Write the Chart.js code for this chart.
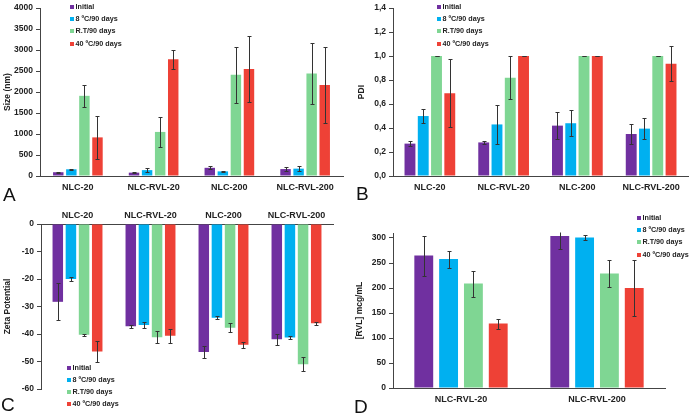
<!DOCTYPE html>
<html><head><meta charset="utf-8">
<script src="https://cdn.jsdelivr.net/npm/chart.js@4"></script>
<style>
body{margin:0;background:#fff;width:693px;height:414px;position:relative;overflow:hidden;font-family:"Liberation Sans",Arial,sans-serif}
canvas{position:absolute}
.lg{position:absolute;font:bold 7.2px "Liberation Sans",Arial,sans-serif;color:#222;line-height:12.2px;z-index:2}
.lg div{white-space:nowrap;height:12.2px}
.lg span{display:inline-block;width:4px;height:4px;margin-right:1.5px;vertical-align:0px}
.letter{position:absolute;font:19px/19px "Liberation Sans",Arial,sans-serif;color:#111;z-index:2}
</style></head><body>
<canvas id="cA" width="350" height="200" style="left:0;top:0"></canvas>
<canvas id="cB" width="348" height="200" style="left:345px;top:0"></canvas>
<canvas id="cC" width="350" height="214" style="left:0;top:200px"></canvas>
<canvas id="cD" width="348" height="214" style="left:345px;top:200px"></canvas>
<div class="letter" style="left:3px;top:185px">A</div>
<div class="letter" style="left:356px;top:184px">B</div>
<div class="letter" style="left:1px;top:395px">C</div>
<div class="letter" style="left:354px;top:397px">D</div>
<script>
// ---- data ----
const seriesNames = ['Initial', '8 ºC/90 days', 'R.T/90 days', '40 ºC/90 days'];
const categoriesABC = ['NLC-20', 'NLC-RVL-20', 'NLC-200', 'NLC-RVL-200'];
const categoriesD = ['NLC-RVL-20', 'NLC-RVL-200'];

// A: Size (nm)
const sizeInitial = [90, 80, 195, 165];
const size8C = [160, 140, 110, 175];
const sizeRT = [1910, 1050, 2410, 2440];
const size40C = [920, 2780, 2550, 2170];
const sizeInitialErr = [15, 15, 40, 40];
const size8CErr = [15, 40, 15, 55];
const sizeRTErr = [260, 350, 670, 720];
const size40CErr = [520, 230, 790, 910];
const ticksSize = ['0', '500', '1000', '1500', '2000', '2500', '3000', '3500', '4000'];

// B: PDI
const pdiInitial = [0.27, 0.28, 0.42, 0.35];
const pdi8C = [0.50, 0.43, 0.44, 0.395];
const pdiRT = [1.0, 0.82, 1.0, 1.0];
const pdi40C = [0.69, 1.0, 1.0, 0.935];
const pdiInitialErr = [0.02, 0.01, 0.11, 0.085];
const pdi8CErr = [0.06, 0.16, 0.11, 0.085];
const pdiRTErr = [0.002, 0.18, 0.002, 0.002];
const pdi40CErr = [0.285, 0.002, 0.002, 0.145];
const ticksPDI = ['0,0', '0,2', '0,4', '0,6', '0,8', '1,0', '1,2', '1,4'];

// C: Zeta Potential
const zetaInitial = [-28.3, -37.2, -46.5, -41.9];
const zeta8C = [-20.0, -36.7, -34.1, -41.3];
const zetaRT = [-40.3, -41.2, -37.7, -51.0];
const zeta40C = [-46.4, -40.6, -43.9, -36.1];
const zetaInitialErr = [6.7, 0.6, 2.3, 2.0];
const zeta8CErr = [0.7, 1.1, 0.5, 0.5];
const zetaRTErr = [0.3, 2.2, 1.6, 2.6];
const zeta40CErr = [3.9, 2.6, 1.1, 0.6];
const ticksZeta = ['-60', '-50', '-40', '-30', '-20', '-10', '0'];

// D: [RVL] mcg/mL
const rvlInitial = [265, 304];
const rvl8C = [258, 301];
const rvlRT = [209, 229];
const rvl40C = [129, 200];
const rvlInitialErr = [40, 26];
const rvl8CErr = [17, 5];
const rvlRTErr = [26, 26];
const rvl40CErr = [10, 56];
const ticksRVL = ['0', '50', '100', '150', '200', '250', '300'];

// ---- styles ----
const colors = ['#7030A0', '#00B0F0', '#7FD693', '#EE4136'];
const FAM = '"Liberation Sans", Arial, sans-serif';
const TXT = '#222';
const AX = '#444';

const errorBars = {
  id: 'errorBars',
  afterDatasetsDraw(chart) {
    const ctx = chart.ctx, ys = chart.scales.y, a = chart.chartArea;
    ctx.save();
    ctx.beginPath();
    ctx.rect(a.left, a.top - 0.5, a.right - a.left, a.bottom - a.top + 1);
    ctx.clip();
    ctx.strokeStyle = '#333';
    ctx.lineWidth = 1;
    chart.data.datasets.forEach((ds, i) => {
      const meta = chart.getDatasetMeta(i);
      meta.data.forEach((bar, j) => {
        const v = ds.data[j], e = ds.errors[j];
        const x = Math.round(bar.x) + 0.5;
        const y1 = Math.round(ys.getPixelForValue(v + e)) + 0.5;
        const y2 = Math.round(ys.getPixelForValue(v - e)) + 0.5;
        ctx.beginPath();
        ctx.moveTo(x, y1); ctx.lineTo(x, y2);
        ctx.moveTo(x - 2, y1); ctx.lineTo(x + 2, y1);
        ctx.moveTo(x - 2, y2); ctx.lineTo(x + 2, y2);
        ctx.stroke();
      });
    });
    ctx.restore();
  }
};

function datasets(vals, errs, catPct, barPct) {
  return vals.map((v, i) => ({
    label: seriesNames[i], data: v, errors: errs[i],
    backgroundColor: colors[i], borderWidth: 0,
    categoryPercentage: catPct, barPercentage: barPct
  }));
}

function yScale(min, max, step, labels, title, width, titlePad) {
  return {
    type: 'linear', min, max,
    ticks: { stepSize: step, includeBounds: false, font: { size: 8.5, weight: 'bold', family: FAM }, color: TXT, padding: 3,
      callback: (v, i) => labels[i] },
    grid: { display: true, drawOnChartArea: false, drawTicks: true, tickLength: 4, color: AX },
    border: { display: true, color: AX, width: 1 },
    title: { display: true, text: title, font: { size: 8.5, weight: 'bold', family: FAM }, color: TXT,
      padding: { top: titlePad, bottom: 0 } },
    afterFit: (s) => { s.width = width; }
  };
}

function xScale(height, pad, position) {
  return {
    type: 'category', position: position || 'bottom',
    ticks: { font: { size: 9, weight: 'bold', family: FAM }, color: TXT, padding: pad, maxRotation: 0, autoSkip: false },
    grid: { display: false, drawTicks: false },
    border: { display: true, color: AX, width: 1 },
    afterFit: (s) => { s.height = height; }
  };
}

function makeChart(id, labels, ds, y, x, padding) {
  return new Chart(document.getElementById(id), {
    type: 'bar',
    data: { labels, datasets: ds },
    options: {
      responsive: false, animation: false, devicePixelRatio: 1,
      layout: { padding },
      plugins: { legend: { display: false }, tooltip: { enabled: false } },
      scales: { x, y }
    },
    plugins: [errorBars]
  });
}

function makeLegend(left, top) {
  const d = document.createElement('div');
  d.className = 'lg';
  d.style.left = left + 'px';
  d.style.top = top + 'px';
  seriesNames.forEach((n, i) => {
    const r = document.createElement('div');
    const s = document.createElement('span');
    s.style.background = colors[i];
    r.appendChild(s);
    r.appendChild(document.createTextNode(n));
    d.appendChild(r);
  });
  document.body.appendChild(d);
}

makeChart('cA', categoriesABC,
  datasets([sizeInitial, size8C, sizeRT, size40C], [sizeInitialErr, size8CErr, sizeRTErr, size40CErr], 0.69, 0.8),
  yScale(0, 4000, 500, ticksSize, 'Size (nm)', 40, 3),
  xScale(24, 6), { left: 0, right: 7, top: 5, bottom: 0 });

makeChart('cB', categoriesABC,
  datasets([pdiInitial, pdi8C, pdiRT, pdi40C], [pdiInitialErr, pdi8CErr, pdiRTErr, pdi40CErr], 0.72, 0.82),
  yScale(0, 1.4, 0.2, ticksPDI, 'PDI', 48, 12),
  xScale(24, 6), { left: 0, right: 5, top: 5, bottom: 0 });

makeChart('cC', categoriesABC,
  datasets([zetaInitial, zeta8C, zetaRT, zeta40C], [zetaInitialErr, zeta8CErr, zetaRTErr, zeta40CErr], 0.72, 0.8),
  yScale(-60, 0, 10, ticksZeta, 'Zeta Potential', 41, 3),
  xScale(24, 3, 'top'), { left: 0, right: 17, top: 0, bottom: 25 });

makeChart('cD', categoriesD,
  datasets([rvlInitial, rvl8C, rvlRT, rvl40C], [rvlInitialErr, rvl8CErr, rvlRTErr, rvl40CErr], 0.73, 0.76),
  yScale(0, 310, 50, ticksRVL, '[RVL] mcg/mL', 48, 10),
  xScale(26, 6), { left: 0, right: 28, top: 33, bottom: 0 });

makeLegend(70, 1);
makeLegend(437, 1);
makeLegend(67, 361.5);
makeLegend(637, 212);
</script>
</body></html>
